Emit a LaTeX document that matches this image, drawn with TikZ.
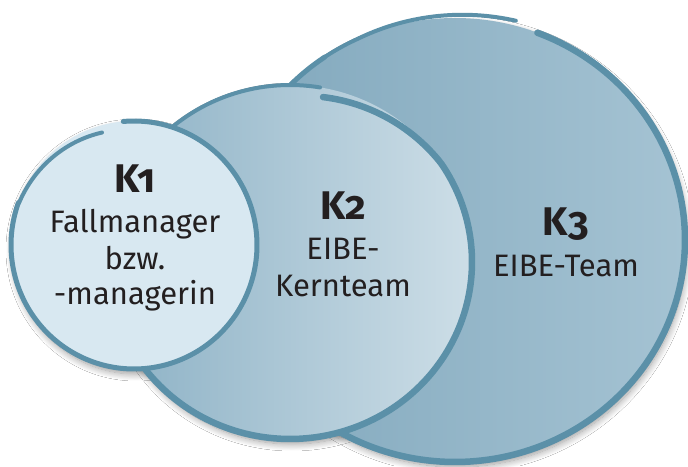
\documentclass[tikz,border=0pt]{standalone}
\usepackage{fontspec}
\setmainfont{Fira Sans}
\newfontfamily\kfont[Numbers=OldStyle]{Fira Sans}
\usetikzlibrary{shadows.blur}
\definecolor{bord}{RGB}{91,144,168}
\definecolor{kOne}{RGB}{216,232,241}
\definecolor{kTwoL}{RGB}{140,177,197}
\definecolor{kTwoR}{RGB}{205,222,231}
\definecolor{kThreeL}{RGB}{128,167,188}
\definecolor{kThreeR}{RGB}{165,195,211}
\definecolor{ink}{RGB}{35,31,32}
\begin{document}
\begin{tikzpicture}[x=1pt,y=1pt,
  shad/.style={blur shadow={shadow xshift=2pt,shadow yshift=-5pt,shadow blur radius=7pt,shadow blur steps=12,shadow opacity=40}},
  rim/.style={draw=bord,line cap=round,line join=round},
  title/.style={anchor=base,text=ink,inner sep=0pt,font=\kfont\bfseries\fontsize{40}{40}\selectfont},
  body/.style={anchor=base,text=ink,inner sep=0pt,font=\fontsize{31}{36}\selectfont},
]
\path[use as bounding box,fill=white] (0,0) rectangle (688,466);

% shadows (only visible on the background)
\path[shad] (455,226) ellipse [x radius=230, y radius=222];
\path[shad] (290,204) ellipse [x radius=182, y radius=177];
\path[shad] (134,221) ellipse [x radius=123, y radius=124];

% K3
\path[left color=kThreeL,right color=kThreeR] (455,226) ellipse [x radius=230, y radius=222];
\draw[rim,line width=6.5pt] plot[domain=69:-175.5,samples=160] ({455+230*cos(\x)},{226+222*sin(\x)});
\draw[rim,line width=5pt] plot[domain=124.5:184.5,samples=40] ({455+230*cos(\x)},{226+222*sin(\x)});
\draw[rim,line width=4pt] plot[domain=75:124.5,samples=40]
  ({455+(230+5*max(0,1-(\x-75)/40))*cos(\x)},{226+(222+5*max(0,1-(\x-75)/40))*sin(\x)});

% K2
\path[left color=kTwoL,right color=kTwoR] (290,204) ellipse [x radius=182, y radius=177];
\draw[rim,line width=6.5pt] plot[domain=79:-179.5,samples=160]
  ({290+(182-9*max(0,1-(79-\x)/45))*cos(\x)},{204+(177-9*max(0,1-(79-\x)/45))*sin(\x)});
\draw[rim,line width=5pt] plot[domain=130.5:180.5,samples=40] ({290+182*cos(\x)},{204+177*sin(\x)});
\draw[rim,line width=4pt] plot[domain=80.5:130.5,samples=40] ({290+182*cos(\x)},{204+177*sin(\x)});

% K1
\path[fill=kOne] (134,221) ellipse [x radius=123, y radius=124];
\draw[rim,line width=5pt] plot[domain=95:-200,samples=160] ({134+123*cos(\x)},{221+124*sin(\x)});
\draw[rim,line width=4pt] plot[domain=106:160,samples=40]
  ({134+(123-7*max(0,1-(\x-106)/60))*cos(\x)},{221+(124-7*max(0,1-(\x-106)/60))*sin(\x)});

% labels
\node[title] (k1) at (135,273) {K1};
\node[body] (k1a) at (135,233) {Fallmanager};
\node[body] (k1b) at (135,196) {bzw.};
\node[body] (k1c) at (135,161) {-managerin};

\node[title] (k2) at (343,246) {K2};
\node[body] (k2a) at (343,206) {EIBE-};
\node[body] (k2b) at (343,169) {Kernteam};

\node[title] (k3) at (566,230) {K3};
\node[body] (k3a) at (566,189) {EIBE-Team};
\end{tikzpicture}
\end{document}
